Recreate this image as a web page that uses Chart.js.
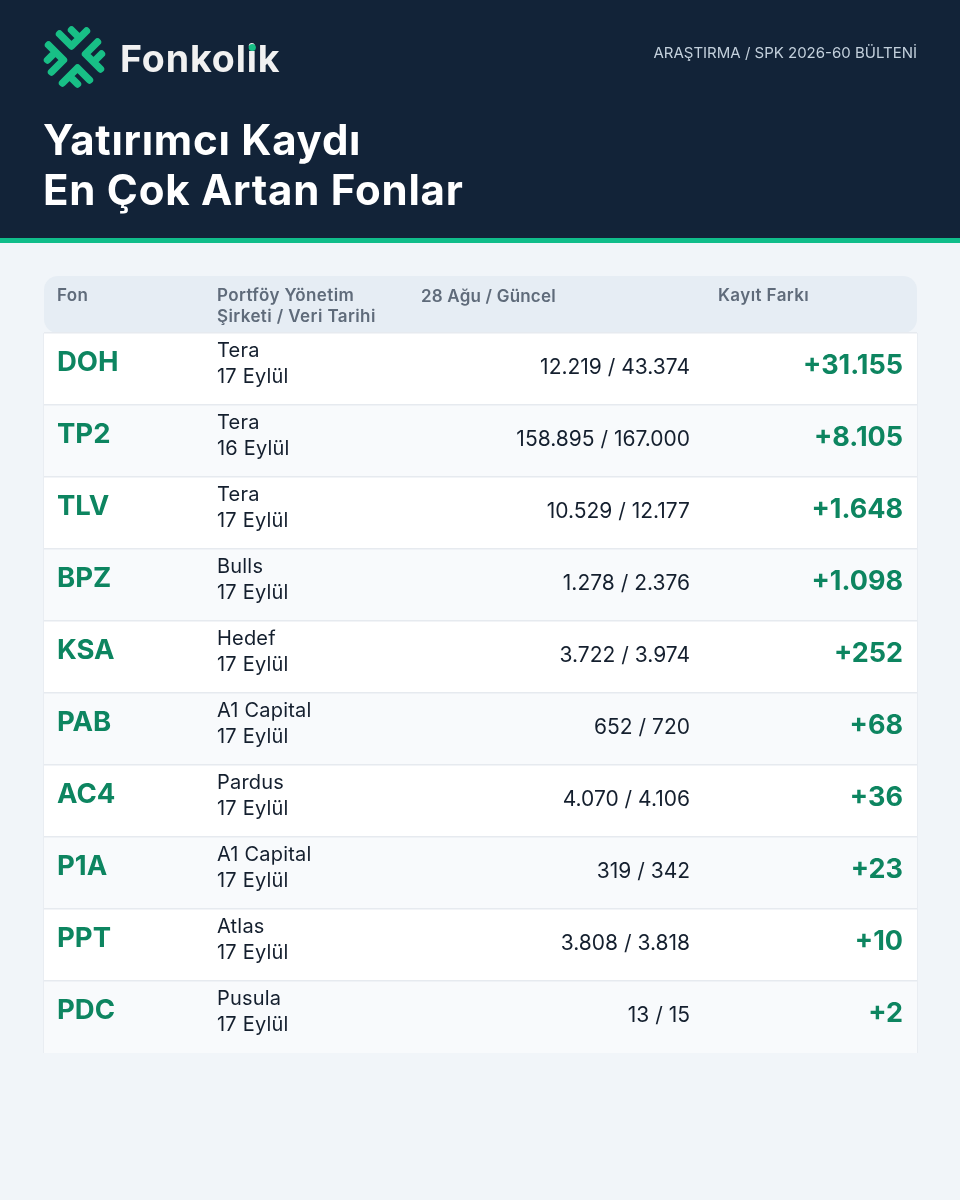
<!DOCTYPE html>
<html>
<head>
<meta charset="utf-8">
<title>Fonkolik</title>
<script src="https://cdn.jsdelivr.net/npm/chart.js@4"></script>
<style>
  html, body { margin: 0; padding: 0; background: #f1f5f9; }
  canvas { display: block; }
</style>
</head>
<body>
<canvas id="tablo" width="960" height="1200"></canvas>
<script>
// veriler
const fonlar = ["DOH","TP2","TLV","BPZ","KSA","PAB","AC4","P1A","PPT","PDC"];
const sirketler = ["Tera","Tera","Tera","Bulls","Hedef","A1 Capital","Pardus","A1 Capital","Atlas","Pusula"];
const tarihler = ["17 Eylül","16 Eylül","17 Eylül","17 Eylül","17 Eylül","17 Eylül","17 Eylül","17 Eylül","17 Eylül","17 Eylül"];
const kayitEski = ["12.219","158.895","10.529","1.278","3.722","652","4.070","319","3.808","13"];
const kayitYeni = ["43.374","167.000","12.177","2.376","3.974","720","4.106","342","3.818","15"];
const kayitFarki = ["+31.155","+8.105","+1.648","+1.098","+252","+68","+36","+23","+10","+2"];
const satirDolgu = [1,1,1,1,1,1,1,1,1,1];
const basliklar = ["Fon","Portföy Yönetim","Şirketi / Veri Tarihi","28 Ağu / Güncel","Kayıt Farkı"];

const YAZI = "Inter, 'Noto Sans', sans-serif";

function yaz(ctx, metin, x, y, font, renk, hiza, aralik) {
    ctx.font = font;
    ctx.fillStyle = renk;
    ctx.textAlign = hiza || "left";
    ctx.textBaseline = "alphabetic";
    ctx.letterSpacing = aralik || "0px";
    ctx.fillText(metin, x, y);
    ctx.letterSpacing = "0px";
}

// logodaki dort catal
function logoCiz(ctx, cx, cy) {
    ctx.save();
    ctx.translate(cx, cy);
    ctx.strokeStyle = "#18bf86";
    ctx.lineWidth = 7.4;
    ctx.lineCap = "round";
    ctx.lineJoin = "round";
    for (let i = 0; i < 4; i++) {
        ctx.save();
        ctx.rotate(i * Math.PI / 2);
        ctx.beginPath();
        ctx.moveTo(-15, -23);
        ctx.lineTo(-3, -11);
        ctx.lineTo(12, -26);
        ctx.moveTo(5, -19);
        ctx.lineTo(-3, -27);
        ctx.stroke();
        ctx.restore();
    }
    ctx.restore();
}

const ustKisim = {
    id: "ustKisim",
    beforeDraw(chart) {
        const ctx = chart.ctx;
        ctx.save();
        ctx.fillStyle = "#f1f5f9";
        ctx.fillRect(0, 0, 960, 1200);
        ctx.fillStyle = "#122338";
        ctx.fillRect(0, 0, 960, 238);
        ctx.fillStyle = "#10bd8a";
        ctx.fillRect(0, 238, 960, 5);

        logoCiz(ctx, 74.5, 57);
        const logoFont = "700 37.5px " + YAZI;
        yaz(ctx, "Fonkolik", 120, 72, logoFont, "#f1f1f1", "left", "0.9px");
        ctx.font = logoFont;
        ctx.letterSpacing = "0.9px";
        const noktaX = 120 + ctx.measureText("Fonkol").width + ctx.measureText("i").width / 2;
        ctx.letterSpacing = "0px";
        ctx.fillStyle = "#18bf86";
        ctx.beginPath();
        ctx.arc(noktaX, 47.5, 3.6, 0, Math.PI * 2);
        ctx.fill();

        yaz(ctx, "ARAŞTIRMA / SPK 2026-60 BÜLTENİ", 917, 57.5, "400 15px " + YAZI, "#c3d0dc", "right");
        yaz(ctx, "Yatırımcı Kaydı", 43, 155, "700 42px " + YAZI, "#ffffff", "left", "0.75px");
        yaz(ctx, "En Çok Artan Fonlar", 43, 205, "700 42px " + YAZI, "#ffffff", "left", "0.75px");
        ctx.restore();
    },
    afterDatasetsDraw(chart) {
        const ctx = chart.ctx;
        const y = chart.scales.y;
        const x = chart.scales.x;
        ctx.save();
        // kenar cizgileri
        ctx.fillStyle = "#e9edf2";
        ctx.fillRect(x.left - 1, y.top, 1, y.bottom - y.top);
        ctx.fillRect(x.right, y.top, 1, y.bottom - y.top);

        // baslik satiri, satirlarin ustunde kalsin
        ctx.fillStyle = "#e6edf4";
        ctx.beginPath();
        ctx.roundRect(x.left, y.top - 57, x.right - x.left, 57, 14);
        ctx.fill();

        const renkBaslik = "#5f6b7a";
        const fontBaslik = "600 17px " + YAZI;
        yaz(ctx, basliklar[0], 57, 301, fontBaslik, renkBaslik, "left", "0.4px");
        yaz(ctx, basliklar[1], 217, 301, fontBaslik, renkBaslik, "left", "0.4px");
        yaz(ctx, basliklar[2], 217, 322, fontBaslik, renkBaslik, "left", "0.4px");
        yaz(ctx, basliklar[3], 421, 302, fontBaslik, renkBaslik, "left", "0.2px");
        yaz(ctx, basliklar[4], 718, 301, fontBaslik, renkBaslik, "left", "0.4px");

        fonlar.forEach((fon, i) => {
            const orta = y.getPixelForValue(i);
            yaz(ctx, fon, 57, orta + 2, "700 27.5px " + YAZI, "#0d8560");
            yaz(ctx, sirketler[i], 217, orta - 12, "400 20px " + YAZI, "#141f2e", "left", "0.2px");
            yaz(ctx, tarihler[i], 217, orta + 14, "400 20px " + YAZI, "#141f2e", "left", "0.2px");
            yaz(ctx, kayitEski[i] + " / " + kayitYeni[i], 690, orta + 5, "400 21px " + YAZI, "#141f2e", "right");
            yaz(ctx, kayitFarki[i], 903, orta + 5, "700 27px " + YAZI, "#0d8560", "right");
        });
        ctx.restore();
    }
};

new Chart(document.getElementById("tablo"), {
    type: "bar",
    data: {
        labels: fonlar,
        datasets: [{
            data: satirDolgu,
            backgroundColor: fonlar.map((f, i) => i % 2 === 0 ? "#ffffff" : "#f8fafc"),
            barPercentage: 1,
            categoryPercentage: 1
        }]
    },
    options: {
        indexAxis: "y",
        responsive: false,
        animation: false,
        layout: { padding: { top: 333, bottom: 147, left: 44, right: 43 } },
        plugins: { legend: { display: false }, tooltip: { enabled: false }, title: { display: false } },
        scales: {
            x: { min: 0, max: 1, display: false, grid: { display: false } },
            y: {
                type: "category",
                offset: true,
                ticks: { display: false },
                border: { display: false },
                grid: {
                    offset: true,
                    // son cizgi (alt kenar) referansta yok
                    color: c => c.index === undefined ? "transparent" : "#e6eaef",
                    lineWidth: 1.5,
                    drawTicks: false,
                    z: 1
                }
            }
        }
    },
    plugins: [ustKisim]
});
</script>
</body>
</html>
